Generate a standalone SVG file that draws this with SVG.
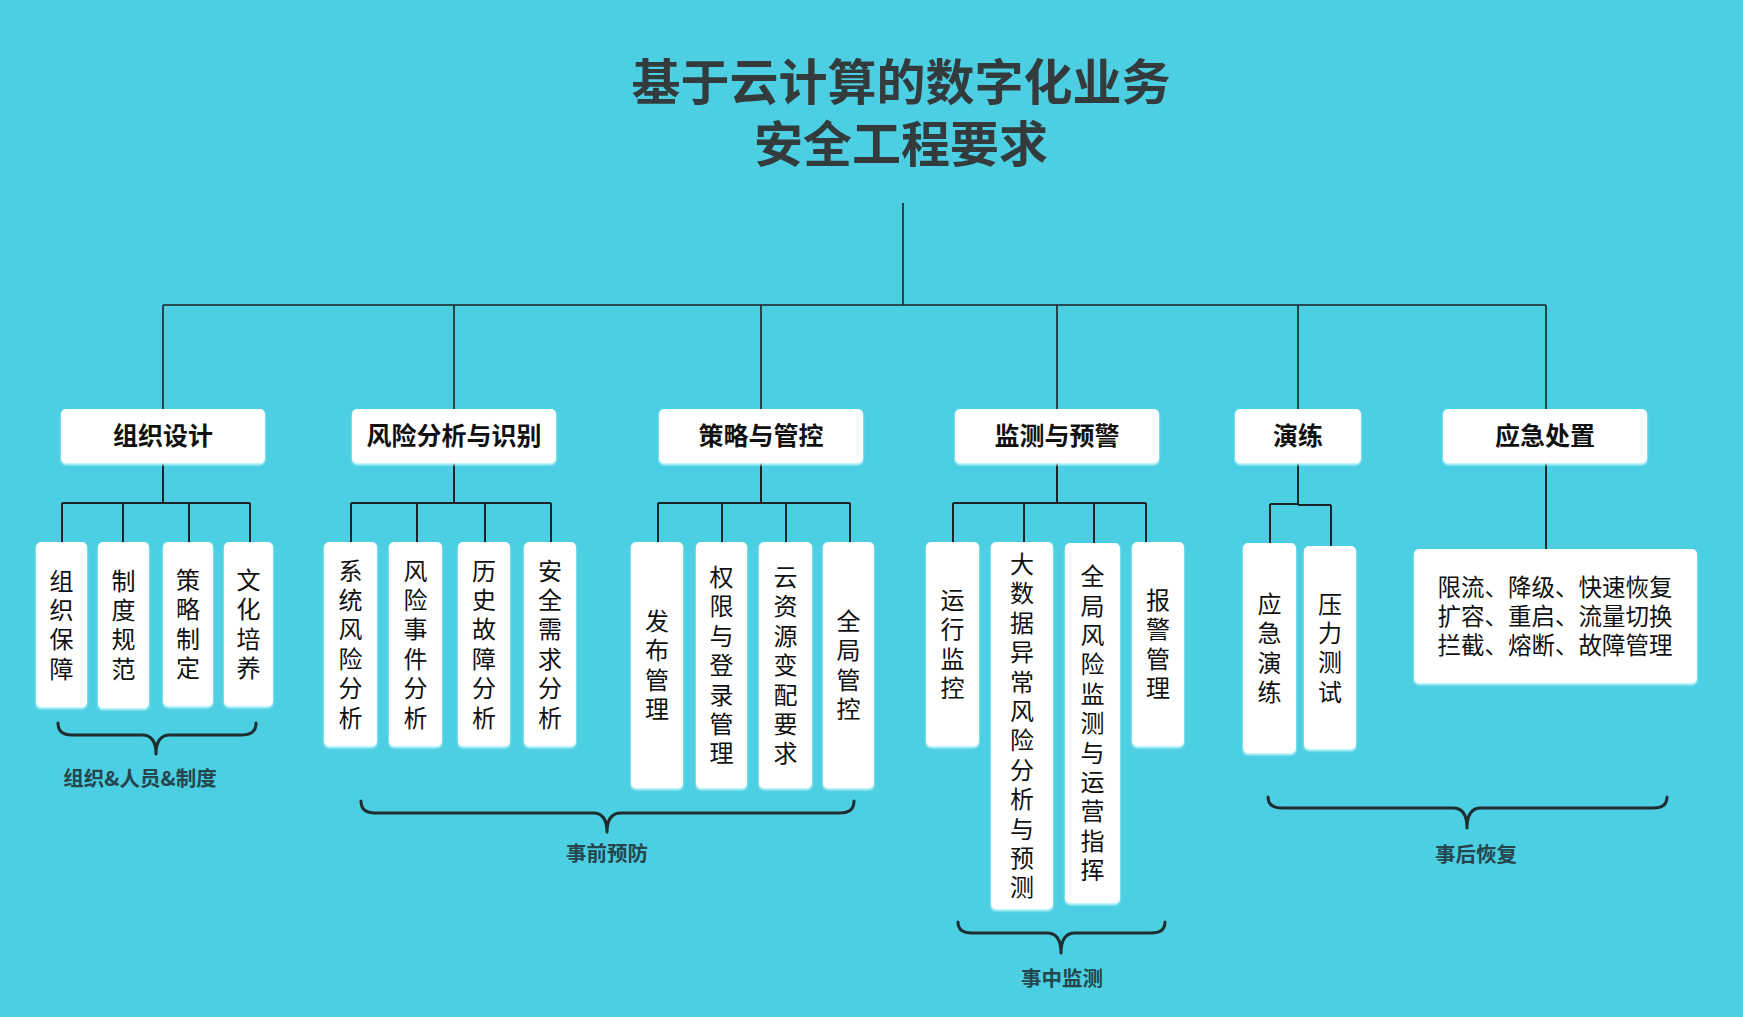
<svg xmlns="http://www.w3.org/2000/svg" width="1743" height="1017" viewBox="0 0 1743 1017">
<defs>
<filter id="glow" x="-20%" y="-20%" width="140%" height="140%">
<feDropShadow dx="0" dy="2" stdDeviation="1" flood-color="#d2fbff" flood-opacity="0.95"/>
</filter>
</defs>
<style>
text{font-family:"Noto Sans CJK SC","Noto Sans",sans-serif;}
.bx{fill:#ffffff;filter:url(#glow);}
.title{font-family:"Liberation Sans","Noto Sans CJK SC",sans-serif;font-size:49px;font-weight:700;fill:#333b3d;text-anchor:middle;dominant-baseline:central;}
.h1{font-size:25px;font-weight:700;fill:#111;text-anchor:middle;dominant-baseline:central;}
.v{font-size:24px;font-weight:400;fill:#111;text-anchor:middle;writing-mode:vertical-rl;text-orientation:upright;letter-spacing:5.4px;}
.t{font-family:"Liberation Sans","Noto Sans CJK SC",sans-serif;font-size:23.5px;font-weight:400;fill:#111;text-anchor:middle;dominant-baseline:central;}
.lbl{font-size:20.5px;font-weight:700;fill:#25464d;text-anchor:middle;dominant-baseline:central;}
.ln{stroke:#1b2427;stroke-width:2;fill:none;}
.ln1{stroke:#1b2427;stroke-width:1.6;fill:none;}
.br{stroke:#1f2e31;stroke-width:3;fill:none;stroke-linecap:round;stroke-linejoin:round;}
</style>
<rect x="0" y="0" width="1743" height="1017" fill="#4ccfe2"/>

<g id="title">
<text class="title" x="901" y="83">基于云计算的数字化业务</text>
<text class="title" x="901" y="145">安全工程要求</text>
</g>

<g id="connectors">
<path class="ln1" d="M903,203 V305 M163,305 H1546 M163,305 V409 M454,305 V409 M761,305 V409 M1057,305 V409 M1298,305 V409 M1546,305 V409"/>
<path class="ln" d="M163,463 V503 M62,503 H250 M62,503 V542 M123,503 V542 M189,503 V542 M250,503 V542"/>
<path class="ln" d="M454,463 V503 M351,503 H551 M351,503 V542 M417,503 V542 M485,503 V542 M551,503 V542"/>
<path class="ln" d="M761,463 V503 M658,503 H850 M658,503 V542 M722,503 V542 M786,503 V542 M850,503 V542"/>
<path class="ln" d="M1057,463 V503 M953,503 H1146 M953,503 V542 M1024,503 V542 M1094,503 V543 M1146,503 V542"/>
<path class="ln" d="M1298,463 V504 M1270,504 H1298 M1298,505 H1331 M1270,504 V543 M1331,505 V546"/>
<path class="ln" d="M1546,463 V549"/>
</g>

<g id="n-zuzhisheji"><rect class="bx" x="61" y="409" width="204" height="54" rx="5"/><text class="h1" x="163" y="434">组织设计</text></g>
<g id="n-fengxian"><rect class="bx" x="352" y="409" width="204" height="54" rx="5"/><text class="h1" x="454" y="434">风险分析与识别</text></g>
<g id="n-celue"><rect class="bx" x="659" y="409" width="204" height="54" rx="5"/><text class="h1" x="761" y="434">策略与管控</text></g>
<g id="n-jiance"><rect class="bx" x="955" y="409" width="204" height="54" rx="5"/><text class="h1" x="1057" y="434">监测与预警</text></g>
<g id="n-yanlian"><rect class="bx" x="1235" y="409" width="126" height="54" rx="5"/><text class="h1" x="1298" y="434">演练</text></g>
<g id="n-yingji"><rect class="bx" x="1443" y="409" width="204" height="54" rx="5"/><text class="h1" x="1545" y="434">应急处置</text></g>

<g id="c-zzbz"><rect class="bx" x="36" y="542" width="51" height="165" rx="5"/><text class="v" x="61.5" y="627.2">组织保障</text></g>
<g id="c-zdgf"><rect class="bx" x="98" y="542" width="51" height="166" rx="5"/><text class="v" x="123.5" y="627.2">制度规范</text></g>
<g id="c-clzd"><rect class="bx" x="163" y="542" width="50" height="164" rx="5"/><text class="v" x="188" y="626.7">策略制定</text></g>
<g id="c-whpy"><rect class="bx" x="224" y="542" width="49" height="164" rx="5"/><text class="v" x="248.5" y="626.7">文化培养</text></g>

<g id="c-xtfx"><rect class="bx" x="324" y="542" width="53" height="204" rx="5"/><text class="v" x="350.5" y="646.7">系统风险分析</text></g>
<g id="c-fxsj"><rect class="bx" x="389" y="542" width="53" height="204" rx="5"/><text class="v" x="415.5" y="646.7">风险事件分析</text></g>
<g id="c-lsgz"><rect class="bx" x="458" y="542" width="52" height="204" rx="5"/><text class="v" x="484" y="646.7">历史故障分析</text></g>
<g id="c-aqxq"><rect class="bx" x="524" y="542" width="52" height="204" rx="5"/><text class="v" x="550" y="646.7">安全需求分析</text></g>

<g id="c-fbgl"><rect class="bx" x="631" y="542" width="52" height="246" rx="5"/><text class="v" x="657" y="667.7">发布管理</text></g>
<g id="c-qxdl"><rect class="bx" x="696" y="542" width="51" height="246" rx="5"/><text class="v" x="721.5" y="667.7">权限与登录管理</text></g>
<g id="c-yzy"><rect class="bx" x="759" y="542" width="53" height="246" rx="5"/><text class="v" x="785.5" y="667.7">云资源变配要求</text></g>
<g id="c-qjgk"><rect class="bx" x="823" y="542" width="51" height="246" rx="5"/><text class="v" x="848.5" y="667.7">全局管控</text></g>

<g id="c-yxjk"><rect class="bx" x="926" y="542" width="53" height="204" rx="5"/><text class="v" x="952.5" y="646.7">运行监控</text></g>
<g id="c-dsj"><rect class="bx" x="991" y="542" width="62" height="367" rx="5"/><text class="v" x="1022" y="728.2">大数据异常风险分析与预测</text></g>
<g id="c-qjfx"><rect class="bx" x="1065" y="543" width="55" height="360" rx="5"/><text class="v" x="1092.5" y="725.7">全局风险监测与运营指挥</text></g>
<g id="c-bjgl"><rect class="bx" x="1132" y="542" width="52" height="204" rx="5"/><text class="v" x="1158" y="646.7">报警管理</text></g>

<g id="c-yjyl"><rect class="bx" x="1243" y="543" width="53" height="210" rx="5"/><text class="v" x="1269.5" y="650.7">应急演练</text></g>
<g id="c-ylcs"><rect class="bx" x="1304" y="546" width="52" height="203" rx="5"/><text class="v" x="1330" y="650.2">压力测试</text></g>

<g id="c-yjcz"><rect class="bx" x="1414" y="549" width="283" height="134" rx="5"/>
<text class="t" x="1555" y="588">限流、降级、快速恢复</text>
<text class="t" x="1555" y="617">扩容、重启、流量切换</text>
<text class="t" x="1555" y="646">拦截、熔断、故障管理</text></g>

<g id="braces">
<path class="br" d="M58,723 Q58,735 72,735 H142 Q156,735 156,754 Q156,735 170,735 H242 Q256,735 256,723"/>
<path class="br" d="M361,801 Q361,813 375,813 H593 Q607,813 607,832 Q607,813 621,813 H840 Q854,813 854,801"/>
<path class="br" d="M958,922 Q958,933 972,933 H1047 Q1061,933 1061,953 Q1061,933 1075,933 H1151 Q1165,933 1165,922"/>
<path class="br" d="M1268,797 Q1268,808 1282,808 H1453 Q1467,808 1467,828 Q1467,808 1481,808 H1653 Q1667,808 1667,797"/>
</g>

<g id="labels">
<text class="lbl" x="140" y="777">组织&amp;人员&amp;制度</text>
<text class="lbl" x="607" y="852">事前预防</text>
<text class="lbl" x="1062" y="977">事中监测</text>
<text class="lbl" x="1476" y="853">事后恢复</text>
</g>
</svg>
